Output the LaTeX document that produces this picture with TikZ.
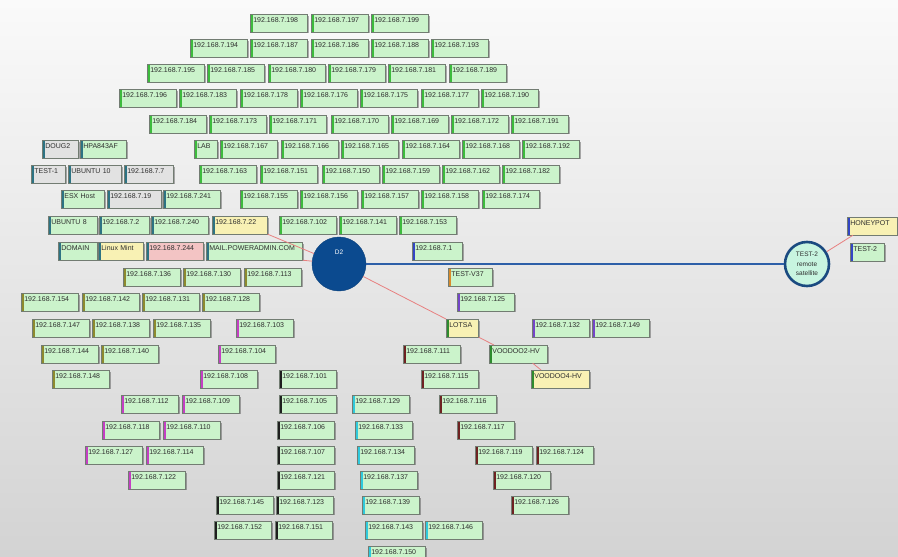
\documentclass[tikz,border=0pt]{standalone}
\usepackage{fontspec}
\setmainfont{Liberation Sans}
\usetikzlibrary{positioning,shadows,calc}
\definecolor{bgtop}{HTML}{FAFAFA}
\definecolor{bgmid}{HTML}{EEEEEE}
\definecolor{bgbot}{HTML}{D3D3D3}
\definecolor{boxline}{HTML}{727C72}
\definecolor{boxtext}{HTML}{2E2E2E}
\definecolor{greenfill}{HTML}{CBF3CB}
\definecolor{greyfill}{HTML}{E2E2E2}
\definecolor{yellowfill}{HTML}{F8F1B4}
\definecolor{pinkfill}{HTML}{F3C4C4}
\definecolor{tgreen}{HTML}{3DBB3D}
\definecolor{tteal}{HTML}{2D7383}
\definecolor{tolive}{HTML}{8D8A2E}
\definecolor{tmag}{HTML}{C43FC4}
\definecolor{tblack}{HTML}{1E1E1E}
\definecolor{tcyan}{HTML}{2FC9DC}
\definecolor{tbrown}{HTML}{6E2222}
\definecolor{tpurple}{HTML}{7446C8}
\definecolor{tblue}{HTML}{3346C4}
\definecolor{torange}{HTML}{D98A2B}
\definecolor{tdkgreen}{HTML}{2E8B2E}
\definecolor{hubblue}{HTML}{0B4A8F}
\definecolor{satfill}{HTML}{C8F5E0}
\definecolor{satline}{HTML}{1A4A80}
\definecolor{linkred}{HTML}{E88080}
\definecolor{trunkblue}{HTML}{2D5FA8}
\tikzset{
  host/.style    = {draw=boxline, fill=greenfill, line width=0.7pt, anchor=north west,
                    inner xsep=3pt, inner ysep=1.5pt, text height=6.5pt, text depth=8pt,
                    text width=51pt, align=left, text=boxtext,
                    font=\fontsize{7}{8}\selectfont,
                    drop shadow={shadow xshift=1.4pt, shadow yshift=-1.6pt, opacity=0.3, fill=black}},
  tag/.style     = {path picture={\fill[#1] (path picture bounding box.north west)
                    rectangle ([xshift=2.2pt]path picture bounding box.south west);}},
  boxw/.style    = {text width=#1},
  offline/.style = {fill=greyfill},
  warn/.style    = {fill=yellowfill},
  down/.style    = {fill=pinkfill},
  hub/.style     = {circle, fill=hubblue, draw=hubblue!85!black, minimum size=54pt, inner sep=0pt,
                    text=white, font=\fontsize{6.5}{7}\selectfont, text height=5pt, text depth=24pt},
  sat/.style     = {circle, fill=satfill, draw=satline, line width=2.6pt, minimum size=44pt,
                    inner sep=0pt, align=center, text=boxtext, font=\fontsize{6.5}{9.5}\selectfont},
  link/.style    = {draw=linkred, line width=0.8pt},
  trunk/.style   = {draw=trunkblue, line width=2pt},
}
\begin{document}
\begin{tikzpicture}[x=1pt,y=1pt]
  \useasboundingbox (0,0) rectangle (898,-557);
  \shade[top color=bgtop, middle color=bgmid, bottom color=bgbot] (0,0) rectangle (898,-557);
  % green block
  \foreach \yy/\row in {
      14/{198/250,197/311,199/371},
      39/{194/190,187/250,186/311,188/371,193/431},
      64/{195/147,185/207,180/268,179/328,181/388,189/449},
      89/{196/119,183/179,178/240,176/300,175/360,177/421,190/481},
      115/{184/149,173/209,171/269,170/331,169/391,172/451,191/511},
      140/{167/220,166/281,165/341,164/402,168/462,192/522},
      165/{163/199,151/260,150/322,159/382,162/442,182/502},
      190/{155/240,156/300,157/361,158/421,174/482},
      216/{102/279,141/339,153/399}}
    \foreach \ip/\xx in \row
      \node[host,tag=tgreen] (up\ip) at (\xx,-\yy) {192.168.7.\ip};
  \node[host,boxw=17pt,tag=tgreen] (lab) at (194,-140) {LAB};
  % left cluster
  \node[host,offline,boxw=30pt,tag=tteal] (doug2) at (42,-140) {DOUG2};
  \node[host,boxw=40pt,tag=tteal] (hpa) at (80,-140) {HPA843AF};
  \node[host,offline,boxw=28pt,tag=tteal] (test1) at (31,-165) {TEST-1};
  \node[host,offline,boxw=47pt,tag=tteal] (ubuntu10) at (68,-165) {UBUNTU 10};
  \node[host,offline,boxw=43pt,tag=tteal] (ip7) at (124,-165) {192.168.7.7};
  \node[host,boxw=37pt,tag=tteal] (esx) at (61,-190) {ESX Host};
  \node[host,offline,boxw=48pt,tag=tteal] (ip19) at (107,-190) {192.168.7.19};
  \node[host,tag=tteal] (ip241) at (163,-190) {192.168.7.241};
  \node[host,boxw=43pt,tag=tteal] (ubuntu8) at (48,-216) {UBUNTU 8};
  \node[host,boxw=44pt,tag=tteal] (ip2) at (99,-216) {192.168.7.2};
  \node[host,tag=tteal] (ip240) at (151,-216) {192.168.7.240};
  \node[host,warn,boxw=49pt,tag=tteal] (ip22) at (212,-216) {192.168.7.22};
  \node[host,boxw=33pt,tag=tteal] (domain) at (58,-242) {DOMAIN};
  \node[host,warn,boxw=39pt,tag=tteal] (mint) at (98,-242) {Linux Mint};
  \node[host,down,tag=tteal] (ip244) at (146,-242) {192.168.7.244};
  \node[host,boxw=90pt,tag=tteal] (mail) at (206,-242) {MAIL.POWERADMIN.COM};
  % olive block
  \foreach \yy/\row in {268/{136/123,130/183,113/244}, 293/{154/21,142/82,131/142,128/202},
      319/{147/32,138/92,135/153}, 345/{144/41,140/101}, 370/{148/52}}
    \foreach \ip/\xx in \row
      \node[host,tag=tolive] (ol\ip) at (\xx,-\yy) {192.168.7.\ip};
  % magenta block
  \foreach \yy/\row in {319/{103/236}, 345/{104/218}, 370/{108/200}, 395/{112/121,109/182},
      421/{118/102,110/163}, 446/{127/85,114/146}, 471/{122/128}}
    \foreach \ip/\xx in \row
      \node[host,tag=tmag] (mg\ip) at (\xx,-\yy) {192.168.7.\ip};
  % black column
  \foreach \yy/\row in {370/{101/279}, 395/{105/279}, 421/{106/277}, 446/{107/277},
      471/{121/277}, 496/{145/216,123/276}, 521/{152/214,151/275}}
    \foreach \ip/\xx in \row
      \node[host,tag=tblack] (bk\ip) at (\xx,-\yy) {192.168.7.\ip};
  % cyan column
  \foreach \yy/\row in {395/{129/352}, 421/{133/355}, 446/{134/357}, 471/{137/360},
      496/{139/362}, 521/{143/365,146/425}, 546/{150/368}}
    \foreach \ip/\xx in \row
      \node[host,tag=tcyan] (cy\ip) at (\xx,-\yy) {192.168.7.\ip};
  % brown column
  \foreach \yy/\row in {345/{111/403}, 370/{115/421}, 395/{116/439}, 421/{117/457},
      446/{119/475,124/536}, 471/{120/493}, 496/{126/511}}
    \foreach \ip/\xx in \row
      \node[host,tag=tbrown] (br\ip) at (\xx,-\yy) {192.168.7.\ip};
  % purple
  \foreach \yy/\row in {293/{125/457}, 319/{132/532,149/592}}
    \foreach \ip/\xx in \row
      \node[host,tag=tpurple] (pu\ip) at (\xx,-\yy) {192.168.7.\ip};
  % right side singles
  \node[host,boxw=44pt,tag=tblue] (ip1) at (412,-242) {192.168.7.1};
  \node[host,boxw=38pt,tag=torange] (testv37) at (448,-268) {TEST-V37};
  \node[host,warn,boxw=26pt,tag=tdkgreen] (lotsa) at (446,-319) {LOTSA};
  \node[host,boxw=52pt,tag=tdkgreen] (vd2) at (489,-345) {VOODOO2-HV};
  \node[host,warn,boxw=52pt,tag=tdkgreen] (vd4) at (531,-370) {VOODOO4-HV};
  \node[host,warn,boxw=44pt,tag=tblue] (honeypot) at (847,-217) {HONEYPOT};
  \node[host,boxw=28pt,tag=tblue] (test2) at (850,-243) {TEST-2};
  % hubs
  \node[hub] (d2) at (339,-264) {D2};
  \node[sat] (t2) at (807,-264) {TEST-2\\remote\\satellite};
  % links
  \draw[link] (ip22.south east) -- (d2);
  \draw[link] (mail.south east) -- (d2);
  \draw[link] (d2) -- (lotsa.north west);
  \draw[link] (lotsa.south east) -- ([xshift=5pt]vd2.north west);
  \draw[link] ([xshift=-15pt]vd2.south east) -- ([xshift=10pt]vd4.north west);
  \draw[trunk] (d2) -- (t2);
  \draw[link] (t2) -- ([xshift=6pt]honeypot.south west);
\end{tikzpicture}
\end{document}
